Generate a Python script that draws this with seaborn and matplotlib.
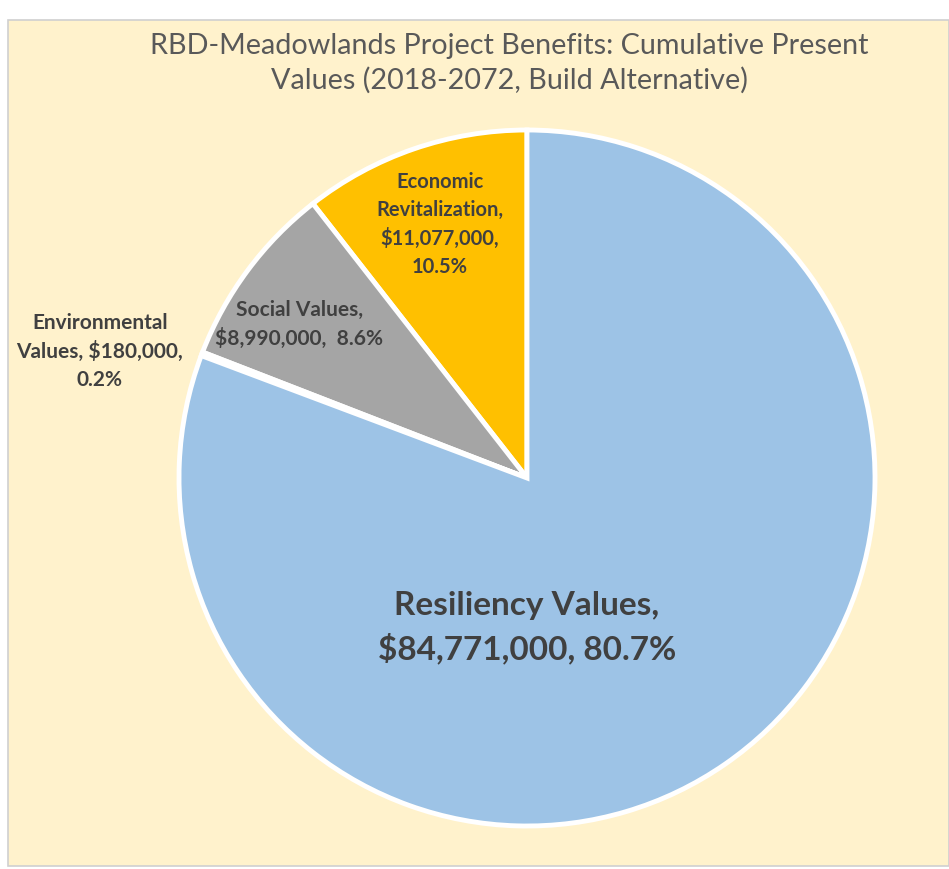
import matplotlib
matplotlib.use("Agg")
import matplotlib.pyplot as plt
import seaborn as sns
import numpy as np
from matplotlib.patches import Rectangle

categories = ["Economic Revitalization", "Social Values", "Environmental Values", "Resiliency Values"]
values = [11077000, 8990000, 180000, 84771000]
label_texts = [
    "Economic\nRevitalization,\n$11,077,000,\n10.5%",
    "Social Values,\n$8,990,000,  8.6%",
    "Environmental\nValues, $180,000,\n0.2%",
    "Resiliency Values,\n$84,771,000, 80.7%",
]
title = "RBD-Meadowlands Project Benefits: Cumulative Present\nValues (2018-2072, Build Alternative)"

sns.set_theme(style="white")
plt.rcParams['font.family'] = ['Lato', 'DejaVu Sans']

colors = ["#FFC000", "#A5A5A5", "#70AD47", "#9DC3E6"]

W, H = 949, 869
fig = plt.figure(figsize=(W / 100, H / 100), dpi=100, facecolor="white")

# cream panel
fig.patches.append(Rectangle((8 / W, 1 - 866 / H), 1 - 8 / W, (866 - 20) / H,
                             transform=fig.transFigure, facecolor="#FFF2CC",
                             edgecolor="#D0D0D0", linewidth=1.2, zorder=-5))

cx, cy, R = 527, 478, 348
ax = fig.add_axes([(cx - R) / W, (H - cy - R) / H, 2 * R / W, 2 * R / H])
ax.set_zorder(2)
ax.set_facecolor("none")
wedges, _ = ax.pie(values, colors=colors, startangle=90, counterclock=True,
                   wedgeprops=dict(edgecolor="white", linewidth=3.5))
ax.set_xlim(-1, 1)
ax.set_ylim(-1, 1)
ax.axis("off")

# label placement (radius fraction, angle override)
place = [(0.77, None), (0.79, 146), (1.28, 163.5), (0.43, 270)]
sizes = [14.5, 15, 15, 24]
spacing = [1.5, 1.5, 1.5, 1.45]
for w, txt, (r, ang), fs, ls in zip(wedges, label_texts, place, sizes, spacing):
    a = ang if ang is not None else (w.theta1 + w.theta2) / 2
    x = r * np.cos(np.radians(a))
    y = r * np.sin(np.radians(a))
    ax.text(x, y, txt, ha="center", va="center", fontsize=fs, fontweight="bold",
            color="#404040", linespacing=ls, clip_on=False)

fig.text(509 / W, 1 - 63 / H, title, ha="center", va="center", fontsize=20.7,
         color="#595959", linespacing=1.35)

fig.savefig("out.png", dpi=100, facecolor="white")
